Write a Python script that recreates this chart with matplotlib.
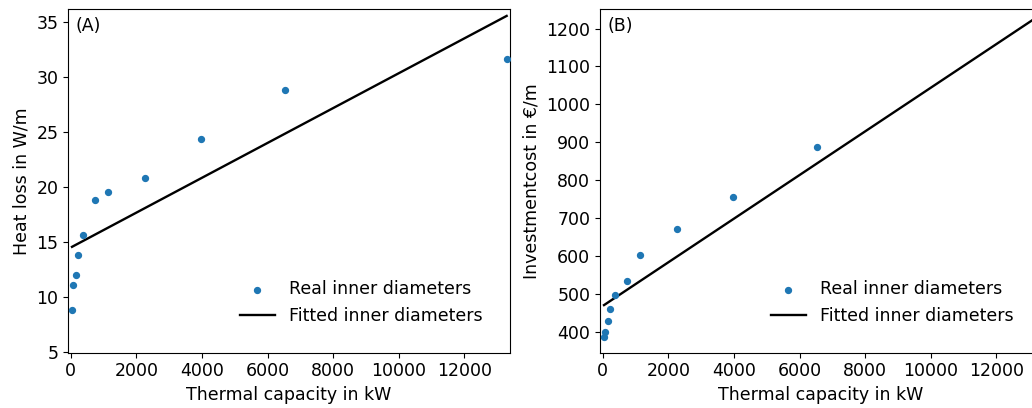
import matplotlib.pyplot as plt
import numpy as np

# thermal capacity of each pipe size in kW
capacity = [40, 76, 151, 212, 385, 751, 1152, 2265, 3958, 6520, 13290]
# heat loss in W/m
heatloss = [8.8, 11.1, 11.95, 13.8, 15.65, 18.8, 19.55, 20.85, 24.4, 28.85, 31.65]
# investment cost in EUR/m
invcost = [387, 399, 429, 462, 497, 534, 603, 672, 756, 888, 1150]

# fitted lines, end points
fit_x = [40, 13290]
fit_loss = [14.55, 35.55]
fit_cost = [471, 1233]

plt.rcParams['font.size'] = 12.5

fig = plt.figure(figsize=(10.32, 4.08), dpi=100)
ax1 = fig.add_axes([0.0659, 0.1355, 0.4283, 0.843])
ax2 = fig.add_axes([0.5814, 0.1355, 0.4283, 0.843])

################################################
# (A) heat loss                                #
################################################
ax1.scatter(capacity, heatloss, s=18, color='#1f77b4', label='Real inner diameters', zorder=3)
ax1.plot(fit_x, fit_loss, '-', color='k', lw=1.7, label='Fitted inner diameters')
ax1.set_xlim(-82, 13393)
ax1.set_ylim(4.92, 36.2)
ax1.set_yticks(np.arange(5, 36, 5))
ax1.set_xticks(np.arange(0, 12001, 2000))
ax1.set_xlabel("Thermal capacity in kW")
ax1.set_ylabel("Heat loss in W/m")
ax1.text(0.016, 0.975, "(A)", transform=ax1.transAxes, va='top', ha='left')
ax1.legend(loc='center', bbox_to_anchor=(0.663, 0.146), frameon=False)

################################################
# (B) investment cost                          #
################################################
ax2.scatter(capacity, invcost, s=18, color='#1f77b4', label='Real inner diameters', zorder=3)
ax2.plot(fit_x, fit_cost, '-', color='k', lw=1.7, label='Fitted inner diameters')
ax2.set_xlim(-82, 13393)
ax2.set_ylim(345.5, 1252)
ax2.set_yticks(np.arange(400, 1201, 100))
ax2.set_xticks(np.arange(0, 12001, 2000))
ax2.set_xlabel("Thermal capacity in kW")
ax2.set_ylabel("Investmentcost in €/m")
ax2.text(0.016, 0.975, "(B)", transform=ax2.transAxes, va='top', ha='left')
ax2.legend(loc='center', bbox_to_anchor=(0.661, 0.146), frameon=False)

plt.savefig('out.png', dpi=100)
plt.close()
